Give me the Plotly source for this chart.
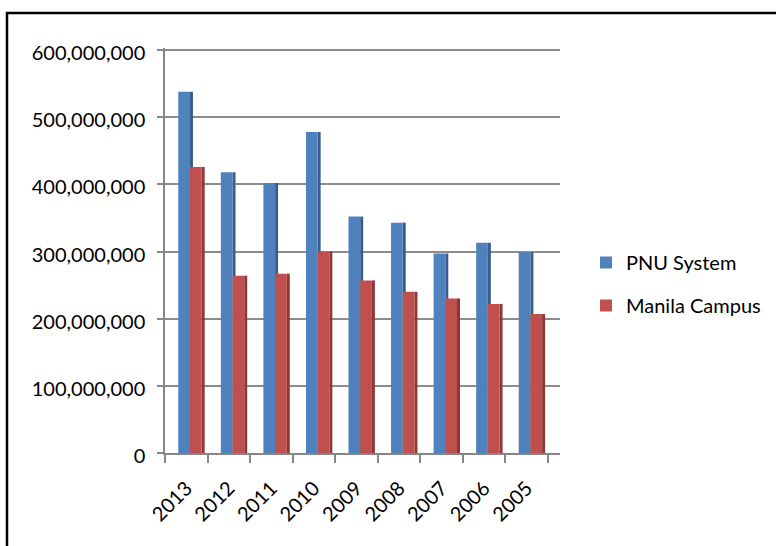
import plotly.graph_objects as go

years = ["2013", "2012", "2011", "2010", "2009", "2008", "2007", "2006", "2005"]
pnu_system = [538e6, 418e6, 402e6, 478e6, 352e6, 343e6, 297e6, 313e6, 299e6]
manila_campus = [426e6, 264e6, 267e6, 300e6, 257e6, 240e6, 230e6, 222e6, 207e6]
y_ticks = [0, 100e6, 200e6, 300e6, 400e6, 500e6, 600e6]

BLUE = "#4F81BD"
BLUE_SIDE = "#385D8A"
RED = "#C0504D"
RED_SIDE = "#8C3836"
FONT = "Lato"

# plot area geometry (pixels)
L, R, T, B = 165, 560, 48, 453
W, H = 776, 546
cat_px = (548 - 165) / 9.0
span = (R - L) / cat_px

fig = go.Figure()
# side faces (depth effect), drawn first
fig.add_trace(go.Bar(x=years, y=pnu_system, offset=0.087, width=0.07,
                     marker=dict(color=BLUE_SIDE, line=dict(width=0)),
                     showlegend=False, hoverinfo="skip"))
fig.add_trace(go.Bar(x=years, y=pnu_system, name="PNU System", offset=-0.188, width=0.275,
                     marker=dict(color=BLUE, line=dict(width=0)), legendgroup="a"))
fig.add_trace(go.Bar(x=years, y=manila_campus, offset=0.362, width=0.07,
                     marker=dict(color=RED_SIDE, line=dict(width=0)),
                     showlegend=False, hoverinfo="skip"))
fig.add_trace(go.Bar(x=years, y=manila_campus, name="Manila Campus", offset=0.087, width=0.275,
                     marker=dict(color=RED, line=dict(width=0)), legendgroup="b"))

def px_x(p):
    return (p - L) / (R - L)

def px_y(p):
    return (B - p) / (B - T)

fig.update_layout(
    width=W, height=H,
    margin=dict(l=L, r=W - R, t=T, b=H - B, pad=0, autoexpand=False),
    barmode="overlay",
    plot_bgcolor="white", paper_bgcolor="white",
    font=dict(family=FONT, size=20, color="#000000"),
    legend=dict(x=px_x(586), y=px_y(243), xanchor="left", yanchor="top",
                font=dict(family=FONT, size=20, color="#000000"),
                tracegroupgap=14, traceorder="grouped", bgcolor="rgba(0,0,0,0)"),
    xaxis=dict(type="category", range=[-0.5, -0.5 + span], tickson="boundaries",
               automargin=False,
               ticks="outside", ticklen=8, tickcolor="#868686", tickwidth=1.5,
               showline=True, linecolor="#868686", linewidth=1.5,
               tickangle=-45, showgrid=False, ticklabelstandoff=14,
               tickfont=dict(size=20, family=FONT)),
    yaxis=dict(range=[0, 603e6], tickvals=y_ticks, tickformat=",d",
               automargin=False,
               showgrid=True, gridcolor="#8C8C8C", gridwidth=1.5,
               zeroline=False, showline=True, linecolor="#868686", linewidth=1.5,
               ticks="outside", ticklen=6, tickcolor="#868686", tickwidth=1.5,
               ticklabelstandoff=8, ticklabelshift=3,
               tickfont=dict(size=20, family=FONT)),
    shapes=[dict(type="rect", xref="paper", yref="paper",
                 x0=px_x(7), x1=px_x(790), y0=px_y(13), y1=px_y(600),
                 line=dict(color="black", width=2.5), fillcolor="rgba(0,0,0,0)", layer="above")],
)

fig.write_html("out.html", config={"displayModeBar": False},
               post_script="document.body.style.margin='0';document.body.style.padding='0';")
